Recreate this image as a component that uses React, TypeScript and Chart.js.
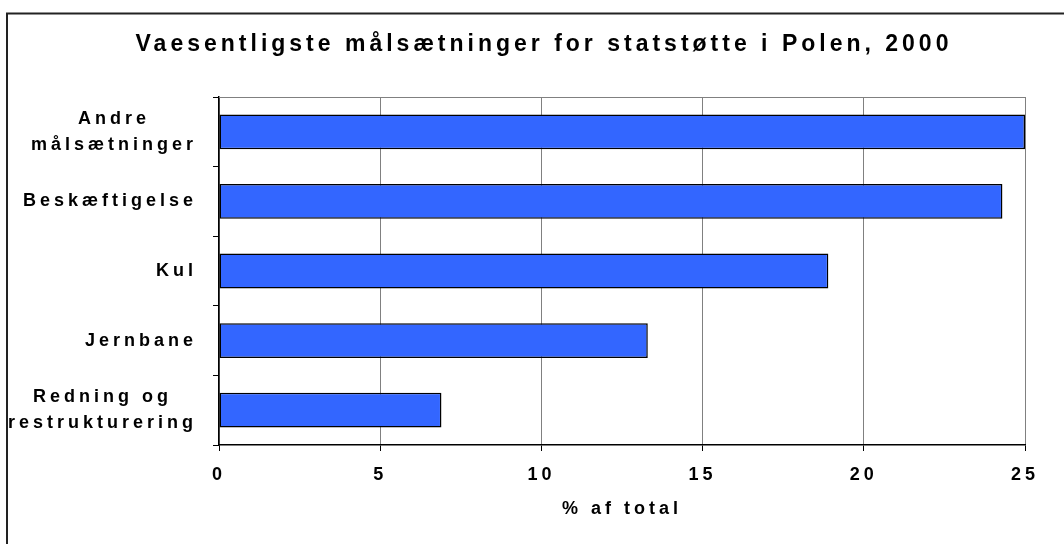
import React, { useEffect, useRef } from 'react';
import { Chart, registerables } from 'chart.js';

Chart.register(...registerables);

const FONT = "'Liberation Sans', Arial, Helvetica, sans-serif";

const categories: string[][] = [
  ['Andre', 'målsætninger'],
  ['Beskæftigelse'],
  ['Kul'],
  ['Jernbane'],
  ['Redning og', 'restrukturering'],
];
const values: number[] = [25, 24.3, 18.9, 13.3, 6.9];
const xTicks: number[] = [0, 5, 10, 15, 20, 25];
const titleText = 'Vaesentligste målsætninger for statstøtte i Polen, 2000';
const xTitle = '% af total';

const SPACING = '4px';

const spacingPlugin = {
  id: 'spacing',
  beforeLayout(chart: any) {
    chart.ctx.letterSpacing = SPACING;
  },
  beforeDraw(chart: any) {
    const ctx = chart.ctx;
    ctx.letterSpacing = SPACING;
    ctx.save();
    ctx.fillStyle = '#ffffff';
    ctx.fillRect(0, 0, chart.width, chart.height);
    ctx.restore();
  },
};

const decorPlugin = {
  id: 'decor',
  afterDraw(chart: any) {
    const { ctx, chartArea } = chart;
    ctx.save();
    ctx.letterSpacing = SPACING;
    // plot top border
    ctx.strokeStyle = '#808080';
    ctx.lineWidth = 1;
    ctx.beginPath();
    ctx.moveTo(chartArea.left, chartArea.top + 0.5);
    ctx.lineTo(chartArea.right, chartArea.top + 0.5);
    ctx.stroke();
    // outer frame
    ctx.strokeStyle = '#222222';
    ctx.lineWidth = 2;
    ctx.strokeRect(7, 13.5, 1200, 800);
    // category labels: block right-aligned, lines centred within block
    const y = chart.scales.y;
    ctx.font = `bold 18px ${FONT}`;
    ctx.fillStyle = '#000000';
    ctx.textBaseline = 'middle';
    ctx.textAlign = 'center';
    categories.forEach((lines, i) => {
      const cy = y.getPixelForTick(i);
      const bw = Math.max(...lines.map((l) => ctx.measureText(l).width));
      const cx = y.right - 22 - bw / 2;
      lines.forEach((l, j) => {
        ctx.fillText(l, cx, cy + (j - (lines.length - 1) / 2) * 25.5);
      });
    });
    ctx.restore();
  },
};

export default function App() {
  const ref = useRef<HTMLCanvasElement | null>(null);

  useEffect(() => {
    document.body.style.margin = '0';
    const canvas = ref.current;
    if (!canvas) return;
    const chart = new Chart(canvas, {
      type: 'bar',
      data: {
        labels: categories.map((c) => c.join(' ')),
        datasets: [
          {
            data: values,
            backgroundColor: '#3366FF',
            borderColor: '#000000',
            borderWidth: 1.5,
            borderSkipped: false,
            barPercentage: 0.5,
            categoryPercentage: 1,
          },
        ],
      },
      options: {
        indexAxis: 'y',
        responsive: false,
        animation: false,
        devicePixelRatio: 1,
        layout: { padding: { left: 24, right: 0, top: 0, bottom: 0 } },
        plugins: {
          legend: { display: false },
          tooltip: { enabled: false },
          title: {
            display: true,
            text: titleText,
            color: '#000000',
            font: { family: FONT, size: 23, weight: 'bold', lineHeight: 1.2 },
            padding: { top: 31, bottom: 38.4 },
          },
        },
        scales: {
          x: {
            type: 'linear',
            position: 'bottom',
            min: 0,
            max: 25,
            afterBuildTicks: (s: any) => {
              s.ticks = xTicks.map((v) => ({ value: v }));
            },
            afterFit: (s: any) => {
              s.height = 99;
              s.paddingRight = 39;
              s.paddingLeft = 0;
            },
            grid: {
              color: '#808080',
              lineWidth: 1,
              tickLength: 6,
              tickColor: '#000000',
            },
            border: { color: '#000000', width: 1.5 },
            ticks: {
              color: '#000000',
              font: { family: FONT, size: 18, weight: 'bold' },
              padding: 13,
              maxRotation: 0,
              minRotation: 0,
              autoSkip: false,
            },
            title: {
              display: true,
              text: xTitle,
              color: '#000000',
              font: { family: FONT, size: 18, weight: 'bold', lineHeight: 1.2 },
              padding: { top: 0, bottom: 24 },
            },
          },
          y: {
            type: 'category',
            afterFit: (s: any) => {
              s.width = 195;
            },
            grid: {
              drawOnChartArea: false,
              offset: true,
              tickLength: 6,
              color: '#000000',
              tickColor: '#000000',
            },
            border: { color: '#000000', width: 1.5 },
            ticks: { display: false },
          },
        },
      } as any,
      plugins: [spacingPlugin, decorPlugin],
    });
    return () => chart.destroy();
  }, []);

  return (
    <div style={{ width: 1064, height: 544 }}>
      <canvas ref={ref} width={1064} height={544} style={{ display: 'block' }} />
    </div>
  );
}
